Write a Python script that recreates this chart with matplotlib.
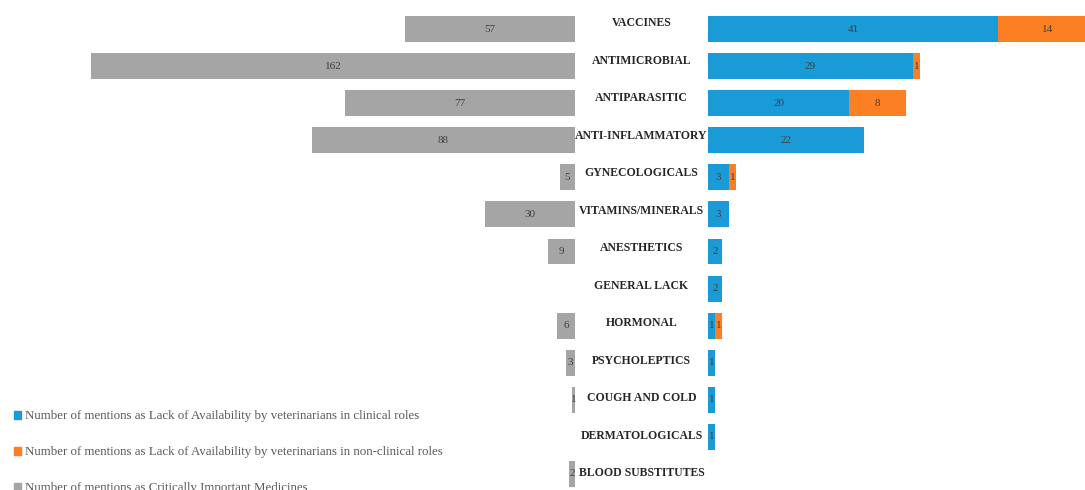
import matplotlib
matplotlib.use("Agg")
import matplotlib.pyplot as plt
import matplotlib.patches as mpatches

categories = ["VACCINES", "ANTIMICROBIAL", "ANTIPARASITIC", "ANTI-INFLAMMATORY",
              "GYNECOLOGICALS", "VITAMINS/MINERALS", "ANESTHETICS", "GENERAL LACK",
              "HORMONAL", "PSYCHOLEPTICS", "COUGH AND COLD", "DERMATOLOGICALS",
              "BLOOD SUBSTITUTES"]
critical = [57, 162, 77, 88, 5, 30, 9, 0, 6, 3, 1, 0, 2]
clinical = [41, 29, 20, 22, 3, 3, 2, 2, 1, 1, 1, 1, 0]
non_clinical = [14, 1, 8, 0, 1, 0, 0, 0, 1, 0, 0, 0, 0]

legend_labels = ["Number of mentions as Lack of Availability by veterinarians in clinical roles",
                 "Number of mentions as Lack of Availability by veterinarians in non-clinical roles",
                 "Number of mentions as Critically Important Medicines"]

BLUE = "#1a9bd7"
ORANGE = "#fd7f23"
GRAY = "#a5a5a5"
TXT = "#404040"

plt.rcParams['font.family'] = ['Liberation Serif', 'DejaVu Serif']

W, H = 1085, 490
fig = plt.figure(figsize=(W / 100, H / 100), dpi=100)

n = len(categories)
idx = list(range(n))
ylim_bars = ((H - 29) / 37.08, -29 / 37.08)

# left axes: critically important medicines, growing leftwards
axL = fig.add_axes([0, 0, 575 / W, 1])
axL.set_xlim(575 / 2.988, 0)
axL.set_ylim(*ylim_bars)
bl = axL.barh(idx, critical, height=0.7, color=GRAY)
for r, v in zip(bl, critical):
    if v > 0:
        axL.text(v / 2, r.get_y() + r.get_height() / 2, str(v), ha="center", va="center",
                 fontsize=8, color=TXT)

# right axes: lack of availability (stacked)
axR = fig.add_axes([708 / W, 0, (W - 708) / W, 1])
axR.set_xlim(0, (W - 708) / 7.07)
axR.set_ylim(*ylim_bars)
b1 = axR.barh(idx, clinical, height=0.7, color=BLUE)
b2 = axR.barh(idx, non_clinical, height=0.7, left=clinical, color=ORANGE)
for bars, vals, lefts in [(b1, clinical, [0] * n), (b2, non_clinical, clinical)]:
    for r, v, l in zip(bars, vals, lefts):
        if v > 0:
            axR.text(l + v / 2, r.get_y() + r.get_height() / 2, str(v), ha="center",
                     va="center", fontsize=8, color=TXT)

# middle axes: category names
axM = fig.add_axes([575 / W, 0, 133 / W, 1])
axM.set_xlim(0, 1)
axM.set_ylim((H - 23) / 37.5, -23 / 37.5)
for i, c in enumerate(categories):
    axM.text(0.5, i, c, ha="center", va="center", fontsize=8.5, fontweight="bold", color="#262626")

for ax in (axL, axR, axM):
    ax.axis("off")

handles = [mpatches.Patch(color=c) for c in (BLUE, ORANGE, GRAY)]
fig.legend(handles=handles, labels=legend_labels, loc="upper left",
           bbox_to_anchor=(4 / W, 1 - 400 / H), frameon=False, fontsize=9.3,
           handlelength=0.55, handleheight=0.55, handletextpad=0.3,
           labelspacing=1.85, labelcolor="#595959", borderpad=0.3)

fig.savefig("out.png", dpi=100)
